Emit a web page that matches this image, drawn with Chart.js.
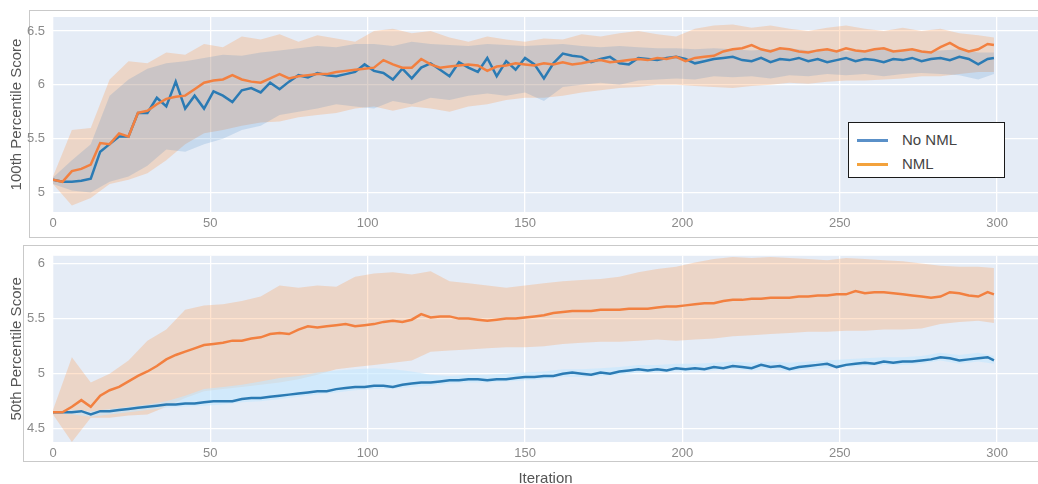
<!DOCTYPE html>
<html>
<head>
<meta charset="utf-8">
<script src="https://cdn.jsdelivr.net/npm/chart.js@4.4.1/dist/chart.umd.min.js"></script>
<style>
  html, body { margin: 0; padding: 0; background: #fff; overflow: hidden; width: 1038px; height: 484px; }
  #page { position: relative; width: 1038px; height: 484px; font-family: "Liberation Sans", Arial, sans-serif; }
  .frame { position: absolute; border: 1px solid #c9c9c9; box-sizing: border-box; }
  canvas { position: absolute; left: 0; }
  #legend { position: absolute; left: 848px; top: 122px; width: 157px; height: 56px; box-sizing: border-box;
            border: 1px solid #1a1a1a; background: #fff; }
  #legend .row { position: absolute; left: 8px; height: 18px; }
  #legend .swatch { position: absolute; left: 0; top: 8px; width: 31px; height: 3px; }
  #legend .label { position: absolute; left: 45px; top: 0; line-height: 18px; font-size: 15px; color: #444; white-space: nowrap; }
</style>
</head>
<body>
<div id="page">
  <div class="frame" style="left:29px; top:10px; width:1020px; height:228px;"></div>
  <div class="frame" style="left:23px; top:245px; width:1026px; height:217px;"></div>
  <canvas id="topChart" width="1038" height="240" style="top:0"></canvas>
  <canvas id="bottomChart" width="1038" height="246" style="top:240px"></canvas>
  <div id="legend"></div>
</div>
<script>
// ===============================
// DATA
// ===============================
const seriesNames = ["No NML", "NML"]

// mean lines: every 3rd iteration, last point 299
const meanIters = Array.from({ length: 100 }, (_, i) => i * 3).concat([299])
// std bands: every 6th iteration, last point 299
const bandIters = Array.from({ length: 50 }, (_, i) => i * 6).concat([299])

const xTicks = [0, 50, 100, 150, 200, 250, 300]
const topYTicks = [5, 5.5, 6, 6.5]
const bottomYTicks = [4.5, 5, 5.5, 6]

// 100th percentile score
const topNoNml = [
  5.12, 5.10, 5.10, 5.11, 5.13, 5.38, 5.45, 5.52, 5.52, 5.74,
  5.74, 5.88, 5.80, 6.03, 5.78, 5.90, 5.78, 5.94, 5.90, 5.84,
  5.95, 5.97, 5.93, 6.02, 5.96, 6.03, 6.09, 6.07, 6.11, 6.09,
  6.08, 6.10, 6.12, 6.19, 6.13, 6.11, 6.05, 6.15, 6.06, 6.16,
  6.20, 6.14, 6.08, 6.21, 6.16, 6.12, 6.25, 6.08, 6.22, 6.14,
  6.25, 6.19, 6.06, 6.20, 6.29, 6.27, 6.26, 6.21, 6.24, 6.26,
  6.20, 6.19, 6.25, 6.24, 6.23, 6.25, 6.26, 6.24, 6.20, 6.22,
  6.24, 6.25, 6.26, 6.23, 6.22, 6.25, 6.21, 6.24, 6.23, 6.25,
  6.22, 6.24, 6.21, 6.23, 6.25, 6.22, 6.24, 6.23, 6.21, 6.24,
  6.23, 6.25, 6.22, 6.24, 6.25, 6.23, 6.26, 6.24, 6.19, 6.24,
  6.25
]
const topNml = [
  5.12, 5.10, 5.20, 5.22, 5.26, 5.46, 5.45, 5.55, 5.52, 5.74,
  5.76, 5.82, 5.87, 5.89, 5.90, 5.96, 6.02, 6.04, 6.05, 6.09,
  6.05, 6.03, 6.02, 6.06, 6.10, 6.06, 6.08, 6.09, 6.10, 6.10,
  6.12, 6.13, 6.14, 6.15, 6.16, 6.23, 6.19, 6.16, 6.16, 6.24,
  6.19, 6.16, 6.17, 6.18, 6.19, 6.18, 6.13, 6.17, 6.18, 6.20,
  6.19, 6.18, 6.20, 6.19, 6.21, 6.19, 6.20, 6.22, 6.23, 6.21,
  6.22, 6.23, 6.24, 6.23, 6.25, 6.24, 6.26, 6.22, 6.25, 6.26,
  6.27, 6.31, 6.33, 6.34, 6.37, 6.33, 6.31, 6.34, 6.33, 6.31,
  6.30, 6.32, 6.33, 6.31, 6.34, 6.32, 6.31, 6.33, 6.34, 6.31,
  6.32, 6.33, 6.31, 6.30, 6.35, 6.39, 6.34, 6.31, 6.33, 6.38,
  6.37
]
const topNmlHi = [
  5.15, 5.58, 5.60, 6.05, 6.22, 6.20, 6.30, 6.28, 6.38, 6.35,
  6.45, 6.42, 6.47, 6.40, 6.46, 6.43, 6.40, 6.50, 6.52, 6.48,
  6.50, 6.44, 6.40, 6.45, 6.42, 6.40, 6.43, 6.42, 6.47, 6.45,
  6.48, 6.50, 6.47, 6.45, 6.52, 6.55, 6.56, 6.53, 6.55, 6.52,
  6.50, 6.53, 6.55, 6.52, 6.50, 6.53, 6.50, 6.52, 6.48, 6.46,
  6.44
]
const topNmlLo = [
  5.08, 4.88, 4.95, 5.08, 5.12, 5.18, 5.30, 5.45, 5.55, 5.58,
  5.62, 5.65, 5.66, 5.70, 5.72, 5.74, 5.78, 5.80, 5.76, 5.80,
  5.78, 5.75, 5.80, 5.82, 5.86, 5.88, 5.88, 5.90, 5.93, 5.95,
  5.97, 5.98, 6.00, 6.00, 5.99, 5.98, 5.97, 5.99, 6.00, 6.02,
  6.01, 6.03, 6.04, 6.04, 6.05, 6.06, 6.08, 6.08, 6.10, 6.12,
  6.12
]
const topNoNmlHi = [
  5.14, 5.30, 5.45, 5.90, 6.05, 6.15, 6.20, 6.22, 6.25, 6.28,
  6.27, 6.30, 6.32, 6.34, 6.36, 6.35, 6.38, 6.38, 6.36, 6.40,
  6.38, 6.37, 6.36, 6.38, 6.37, 6.36, 6.37, 6.38, 6.36, 6.35,
  6.36, 6.35, 6.34, 6.34, 6.33, 6.34, 6.33, 6.32, 6.33, 6.34,
  6.32, 6.33, 6.31, 6.32, 6.33, 6.32, 6.31, 6.32, 6.33, 6.30,
  6.30
]
const topNoNmlLo = [
  5.08, 5.02, 5.00, 5.10, 5.15, 5.25, 5.40, 5.38, 5.45, 5.50,
  5.58, 5.62, 5.72, 5.75, 5.78, 5.82, 5.80, 5.78, 5.85, 5.82,
  5.88, 5.86, 5.90, 5.92, 5.90, 5.93, 5.85, 5.98, 6.00, 6.02,
  6.00, 6.04, 6.05, 6.06, 6.05, 6.08, 6.07, 6.08, 6.06, 6.09,
  6.08, 6.10, 6.09, 6.10, 6.08, 6.10, 6.11, 6.10, 6.09, 6.05,
  6.10
]

// 50th percentile score
const bottomNoNml = [
  4.65, 4.65, 4.65, 4.66, 4.63, 4.66, 4.66, 4.67, 4.68, 4.69,
  4.70, 4.71, 4.72, 4.72, 4.73, 4.73, 4.74, 4.75, 4.75, 4.75,
  4.77, 4.78, 4.78, 4.79, 4.80, 4.81, 4.82, 4.83, 4.84, 4.84,
  4.86, 4.87, 4.88, 4.88, 4.89, 4.89, 4.88, 4.90, 4.91, 4.92,
  4.92, 4.93, 4.94, 4.94, 4.95, 4.95, 4.94, 4.95, 4.95, 4.96,
  4.97, 4.97, 4.98, 4.98, 5.00, 5.01, 5.00, 4.99, 5.01, 5.00,
  5.02, 5.03, 5.04, 5.03, 5.04, 5.03, 5.05, 5.04, 5.05, 5.04,
  5.06, 5.05, 5.07, 5.06, 5.05, 5.08, 5.06, 5.07, 5.04, 5.06,
  5.07, 5.08, 5.09, 5.06, 5.08, 5.09, 5.10, 5.09, 5.11, 5.10,
  5.11, 5.11, 5.12, 5.13, 5.15, 5.14, 5.12, 5.13, 5.14, 5.15,
  5.12
]
const bottomNml = [
  4.65, 4.65, 4.70, 4.76, 4.70, 4.80, 4.85, 4.88, 4.93, 4.98,
  5.02, 5.07, 5.13, 5.17, 5.20, 5.23, 5.26, 5.27, 5.28, 5.30,
  5.30, 5.32, 5.33, 5.36, 5.37, 5.36, 5.40, 5.43, 5.42, 5.43,
  5.44, 5.45, 5.43, 5.44, 5.45, 5.47, 5.48, 5.47, 5.49, 5.54,
  5.51, 5.52, 5.52, 5.50, 5.50, 5.49, 5.48, 5.49, 5.50, 5.50,
  5.51, 5.52, 5.53, 5.55, 5.56, 5.57, 5.57, 5.57, 5.58, 5.58,
  5.58, 5.59, 5.59, 5.59, 5.60, 5.61, 5.61, 5.62, 5.63, 5.64,
  5.64, 5.66, 5.67, 5.67, 5.68, 5.68, 5.69, 5.69, 5.69, 5.70,
  5.70, 5.71, 5.71, 5.72, 5.72, 5.75, 5.73, 5.74, 5.74, 5.73,
  5.72, 5.71, 5.70, 5.69, 5.70, 5.74, 5.73, 5.71, 5.70, 5.74,
  5.72
]
const bottomNmlHi = [
  4.67, 5.15, 4.92, 5.00, 5.12, 5.30, 5.40, 5.58, 5.62, 5.63,
  5.66, 5.70, 5.80, 5.78, 5.80, 5.79, 5.88, 5.91, 5.92, 5.90,
  5.93, 5.84, 5.82, 5.80, 5.78, 5.80, 5.82, 5.84, 5.85, 5.86,
  5.88, 5.92, 5.95, 5.97, 6.01, 6.04, 6.06, 6.05, 6.06, 6.05,
  6.04, 6.03, 6.05, 6.04, 6.03, 6.02, 6.00, 5.98, 5.97, 5.97,
  5.96
]
const bottomNmlLo = [
  4.63, 4.38, 4.60, 4.60, 4.62, 4.63, 4.70, 4.78, 4.84, 4.86,
  4.88, 4.90, 4.92, 4.95, 4.99, 5.04, 5.06, 5.08, 5.10, 5.12,
  5.20, 5.21, 5.22, 5.23, 5.24, 5.24, 5.25, 5.27, 5.28, 5.29,
  5.29, 5.30, 5.31, 5.30, 5.31, 5.32, 5.34, 5.35, 5.36, 5.37,
  5.38, 5.38, 5.39, 5.39, 5.40, 5.40, 5.41, 5.45, 5.47, 5.48,
  5.46
]
const bottomNoNmlHi = [
  4.66, 4.67, 4.66, 4.68, 4.70, 4.72, 4.75, 4.80, 4.86, 4.88,
  4.90, 4.93, 4.96, 4.98, 5.01, 5.03, 5.04, 5.05, 5.04, 5.02,
  4.99, 4.98, 4.99, 4.99, 5.00, 5.01, 5.02, 5.04, 5.04, 5.05,
  5.06, 5.08, 5.08, 5.09, 5.09, 5.10, 5.11, 5.10, 5.11, 5.10,
  5.11, 5.12, 5.13, 5.14, 5.15, 5.15, 5.16, 5.19, 5.17, 5.19,
  5.16
]
const bottomNoNmlLo = [
  4.64, 4.63, 4.61, 4.63, 4.65, 4.67, 4.69, 4.70, 4.71, 4.72,
  4.74, 4.75, 4.77, 4.79, 4.81, 4.83, 4.85, 4.86, 4.86, 4.88,
  4.89, 4.91, 4.92, 4.92, 4.93, 4.94, 4.95, 4.97, 4.97, 4.98,
  4.99, 5.01, 5.01, 5.02, 5.02, 5.03, 5.04, 5.03, 5.04, 5.02,
  5.04, 5.05, 5.06, 5.07, 5.08, 5.08, 5.09, 5.12, 5.09, 5.11,
  5.09
]

// ===============================
// STYLE
// ===============================
const FONT = "'Liberation Sans', Arial, sans-serif"
const BLUE = "#2b7bb4"
const ORANGE = "#f28040"
const ORANGE_BAND = "rgba(255,145,60,0.25)"
const PLOT_BG = "#e5ecf6"

const plotBg = {
  id: "plotBg",
  beforeDraw(chart) {
    const { ctx, chartArea: a } = chart
    ctx.save()
    ctx.fillStyle = PLOT_BG
    ctx.fillRect(a.left, a.top, a.right - a.left, a.bottom - a.top)
    ctx.restore()
  }
}

function pts(xs, ys) {
  return ys.map((y, i) => ({ x: xs[i], y }))
}

function line(xs, ys, color) {
  return { data: pts(xs, ys), borderColor: color, borderWidth: 2.5, pointRadius: 0, fill: false, tension: 0 }
}

function band(xs, ys, fill, color) {
  return { data: pts(xs, ys), borderColor: "transparent", borderWidth: 0, pointRadius: 0,
           fill: fill, backgroundColor: color, tension: 0 }
}

// ===============================
// CREATE CHART
// ===============================
function createChart(id, s) {
  const ctx = document.getElementById(id).getContext("2d")
  return new Chart(ctx, {
    type: "line",
    data: {
      datasets: [
        line(meanIters, s.nml, ORANGE),
        line(meanIters, s.noNml, BLUE),
        band(bandIters, s.noNmlHi, "+1", s.blueBand),
        band(bandIters, s.noNmlLo, false, s.blueBand),
        band(bandIters, s.nmlHi, "+1", ORANGE_BAND),
        band(bandIters, s.nmlLo, false, ORANGE_BAND)
      ]
    },
    options: {
      responsive: false,
      animation: false,
      events: [],
      layout: { padding: { top: s.padTop, right: 0, left: 0, bottom: 0 } },
      plugins: {
        legend: { display: false },
        tooltip: { enabled: false },
        filler: { drawTime: "beforeDatasetsDraw", propagate: false }
      },
      scales: {
        x: {
          type: "linear",
          min: 0,
          max: 313,
          afterBuildTicks: ax => { ax.ticks = xTicks.map(v => ({ value: v })) },
          afterFit: ax => { ax.height = s.xAxisH },
          grid: { color: "#ffffff", lineWidth: 1.3, drawTicks: false },
          border: { display: false },
          ticks: { color: "#8a8a8a", font: { family: FONT, size: 13 }, padding: 4, maxRotation: 0, autoSkip: false },
          title: {
            display: !!s.xTitle,
            text: s.xTitle || "",
            color: "#555",
            font: { family: FONT, size: 15, lineHeight: 1 },
            padding: { top: 0, bottom: 0 }
          }
        },
        y: {
          min: s.yMin,
          max: s.yMax,
          afterBuildTicks: ax => { ax.ticks = s.yTicks.map(v => ({ value: v })) },
          afterFit: ax => { ax.width = 53 },
          grid: { color: "#ffffff", lineWidth: 1.3, drawTicks: false },
          border: { display: false },
          ticks: { color: "#8a8a8a", font: { family: FONT, size: 13 }, padding: 8, callback: v => String(v) },
          title: {
            display: true,
            text: s.yTitle,
            color: "#555",
            font: { family: FONT, size: 15, lineHeight: 1 },
            padding: { top: 9.5, bottom: 0 }
          }
        }
      }
    },
    plugins: [plotBg]
  })
}

createChart("topChart", {
  nml: topNml, noNml: topNoNml,
  nmlHi: topNmlHi, nmlLo: topNmlLo,
  noNmlHi: topNoNmlHi, noNmlLo: topNoNmlLo,
  blueBand: "rgba(40,120,190,0.16)",
  yMin: 4.82, yMax: 6.63, yTicks: topYTicks,
  yTitle: "100th Percentile Score",
  padTop: 17, xAxisH: 28
})

createChart("bottomChart", {
  nml: bottomNml, noNml: bottomNoNml,
  nmlHi: bottomNmlHi, nmlLo: bottomNmlLo,
  noNmlHi: bottomNoNmlHi, noNmlLo: bottomNoNmlLo,
  blueBand: "rgba(195,232,255,0.6)",
  yMin: 4.38, yMax: 6.07, yTicks: bottomYTicks,
  yTitle: "50th Percentile Score",
  xTitle: "Iteration",
  padTop: 7, xAxisH: 44
})

// ===============================
// LEGEND
// ===============================
const legendColors = ["#5a90c8", "#f3a23c"]
const legend = document.getElementById("legend")
seriesNames.forEach((name, i) => {
  legend.innerHTML += `
    <div class="row" style="top:${8 + i * 24}px">
      <span class="swatch" style="background:${legendColors[i]}"></span>
      <span class="label">${name}</span>
    </div>`
})
</script>
</body>
</html>
